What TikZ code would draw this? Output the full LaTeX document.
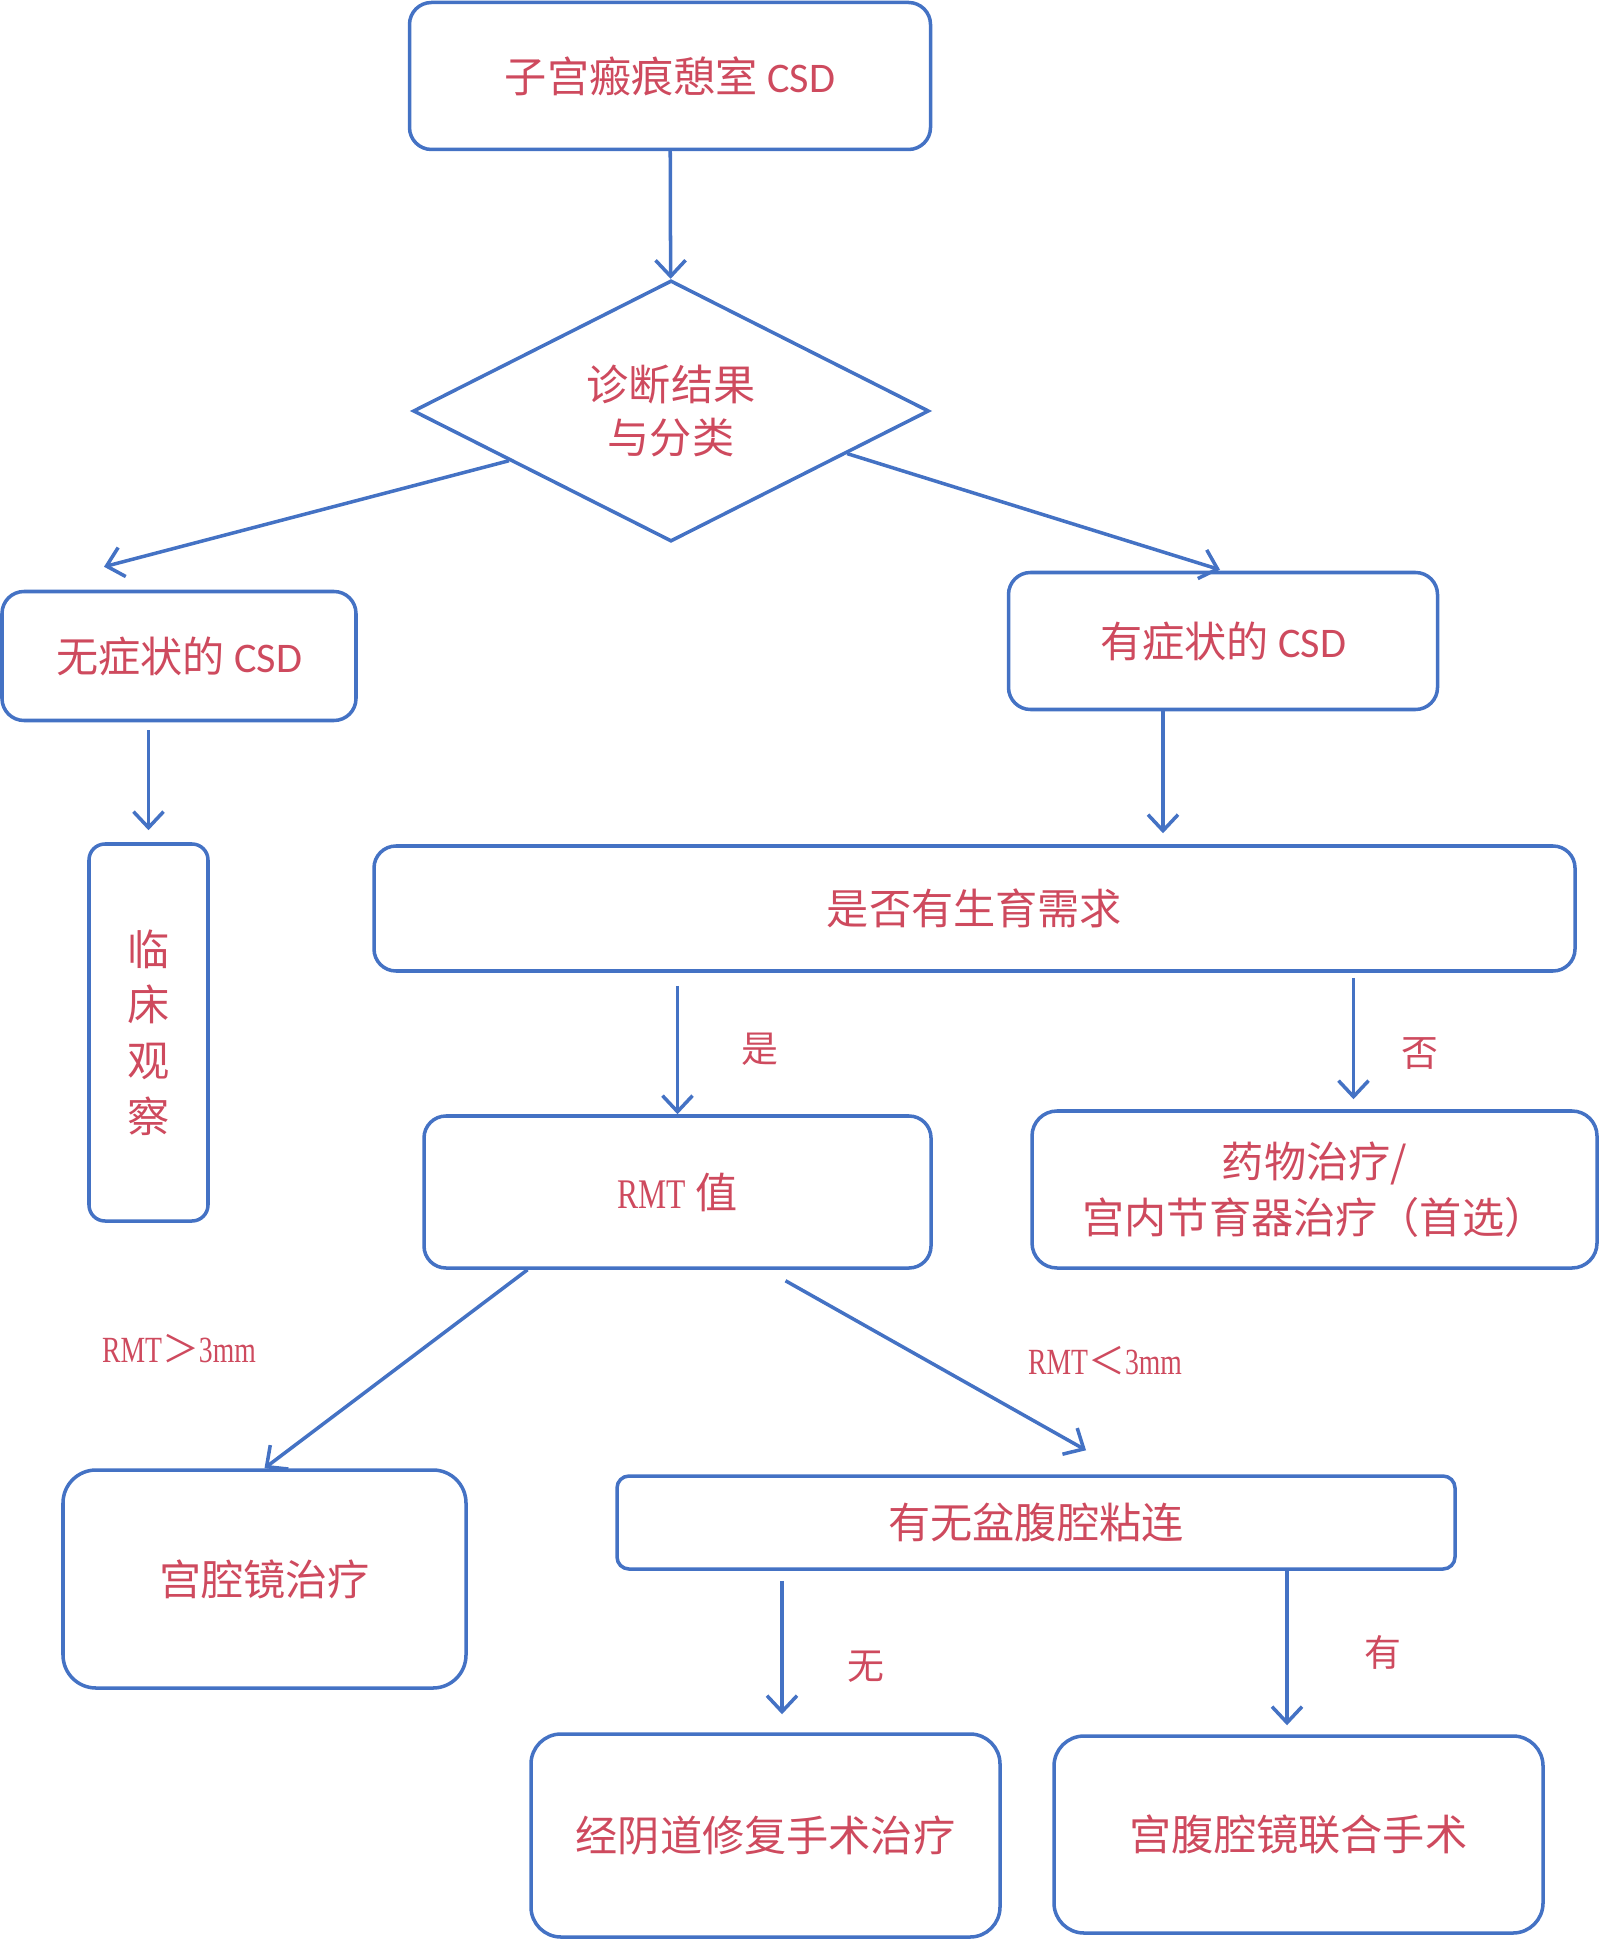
\documentclass[tikz,border=0pt]{standalone}
\usepackage{fontspec}
\setmainfont{Noto Sans CJK SC}
\newfontfamily\csdfont[Scale=1.0]{Carlito}
\newfontfamily\rmtfont[FakeStretch=0.75]{Liberation Serif}
\usepackage{xcolor}
\usepackage{tikz}
\usetikzlibrary{shapes.geometric, arrows.meta, positioning, calc}

\definecolor{lineblue}{RGB}{68,114,196}
\definecolor{txtred}{RGB}{206,74,94}

\begin{document}
\begin{tikzpicture}[
    box/.style={draw=lineblue, line width=1pt, rectangle, rounded corners=0.22cm,
        inner sep=0pt, align=center, text=txtred,
        font=\fontsize{12}{15.6}\selectfont},
    decide/.style={draw=lineblue, line width=1pt, diamond, inner sep=0pt,
        minimum width=5.16cm, minimum height=2.54cm, align=center, text=txtred,
        font=\fontsize{12}{15.2}\selectfont},
    arr/.style={draw=lineblue, line width=1pt, -{Straight Barb[length=1.6mm,width=3mm]}},
    lbl/.style={text=txtred, font=\fontsize{10.5}{12}\selectfont}
]
\useasboundingbox (0,0) rectangle (16,-19.41);

% top
\node[box, minimum width=5.21cm, minimum height=1.47cm] (csd) at (6.70, -0.76) {子宫瘢痕憩室 {\csdfont CSD}};
\node[decide] (diag) at (6.71, -4.11) {\raisebox{-0.06cm}{诊断结果}\\\raisebox{-0.06cm}{与分类}};

% asymptomatic / symptomatic
\node[box, minimum width=3.54cm, minimum height=1.29cm] (asym) at (1.79, -6.56) {无症状的 {\csdfont CSD}};
\node[box, minimum width=4.29cm, minimum height=1.37cm] (sym) at (12.23, -6.41) {有症状的 {\csdfont CSD}};
\node[box, rounded corners=0.16cm, minimum width=1.19cm, minimum height=3.77cm,
    font=\fontsize{12}{15.8}\selectfont] (obs) at (1.485, -10.325) {临\\床\\观\\察};

% fertility
\node[box, minimum width=12.01cm, minimum height=1.25cm] (fert) at (9.745, -9.085) {是否有生育需求};
\node[box, minimum width=5.07cm, minimum height=1.52cm] (rmt) at (6.775, -11.92) {{\rmtfont RMT} 值};
\node[box, rounded corners=0.25cm, minimum width=5.65cm, minimum height=1.57cm,
    font=\fontsize{12}{15.8}\selectfont] (drug) at (13.145, -11.895) {药物治疗/\\宫内节育器治疗（首选）};

% treatment
\node[box, rounded corners=0.33cm, minimum width=4.03cm, minimum height=2.18cm] (hys) at (2.645, -15.79) {宫腔镜治疗};
\node[box, rounded corners=0.12cm, minimum width=8.38cm, minimum height=0.93cm] (adh) at (10.36, -15.225) {有无盆腹腔粘连};
\node[box, rounded corners=0.3cm, minimum width=4.69cm, minimum height=2.03cm] (vag) at (7.655, -18.355) {经阴道修复手术治疗};
\node[box, rounded corners=0.3cm, minimum width=4.89cm, minimum height=1.97cm] (lap) at (12.985, -18.345) {宫腹腔镜联合手术};

% labels
\node[lbl] (yes) at (7.60, -10.49) {是};
\node[lbl] (no) at (14.20, -10.54) {否};
\node[lbl] (nadh) at (8.66, -16.67) {无};
\node[lbl] (hadh) at (13.83, -16.52) {有};
\node[lbl, font=\fontsize{10.5}{12}\selectfont] (gt) at (1.79, -13.49) {{\rmtfont RMT}＞{\rmtfont 3mm}};
\node[lbl, font=\fontsize{10.5}{12}\selectfont] (lt) at (11.05, -13.61) {{\rmtfont RMT}＜{\rmtfont 3mm}};

% arrows
\draw[arr] (csd) -- (diag);
\draw[arr] ($(diag.west)!0.376!(diag.south)$) -- ([xshift=-0.75cm, yshift=0.23cm]asym.north);
\draw[arr] ($(diag.south)!0.678!(diag.east)$) -- ([xshift=-0.03cm, yshift=0.01cm]sym.north);
\draw[arr, shorten >=0.12cm] ([yshift=-0.08cm]asym.south -| obs.north) -- (obs.north);
\draw[arr, shorten >=0.11cm] ([xshift=-0.6cm]sym.south) -- ([xshift=-0.6cm]sym.south |- fert.north);
\draw[arr] ([yshift=-0.13cm]fert.south -| rmt.north) -- (rmt.north);
\draw[arr, shorten >=0.1cm] ([xshift=0.39cm, yshift=-0.05cm]drug.north |- fert.south) -- ([xshift=0.39cm]drug.north);
\draw[arr] ([xshift=-1.5cm]rmt.south) -- (hys.north);
\draw[arr] ([xshift=1.08cm, yshift=-0.11cm]rmt.south) -- ([xshift=0.5cm, yshift=0.24cm]adh.north);
\draw[arr, shorten >=0.18cm] ([xshift=-2.54cm, yshift=-0.1cm]adh.south) -- ([xshift=-2.54cm]adh.south |- vag.north);
\draw[arr, shorten >=0.09cm] ([xshift=2.51cm]adh.south) -- ([xshift=2.51cm]adh.south |- lap.north);
\end{tikzpicture}
\end{document}
